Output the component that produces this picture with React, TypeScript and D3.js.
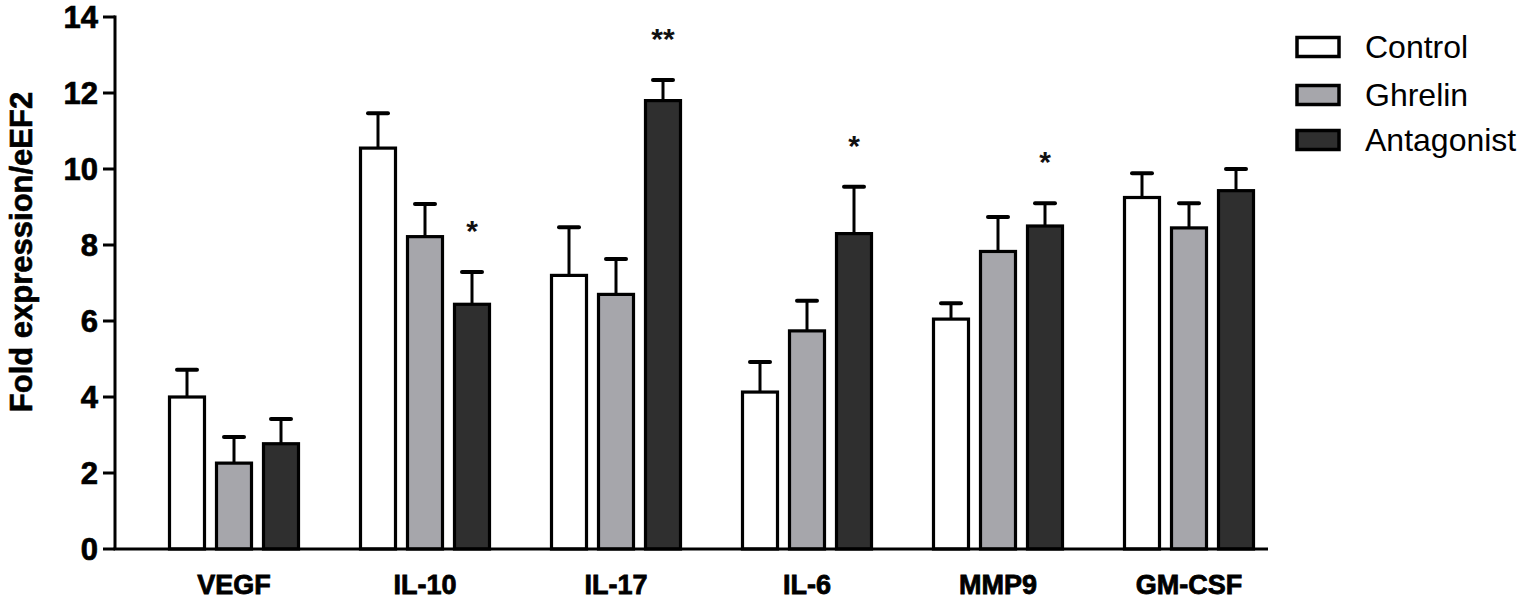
import React from "react";
import * as d3 from "d3";

const categories = ["VEGF", "IL-10", "IL-17", "IL-6", "MMP9", "GM-CSF"];
const seriesNames = ["Control", "Ghrelin", "Antagonist"];
const controlMean = [4.0, 10.55, 7.2, 4.13, 6.05, 9.25];
const controlErr = [0.72, 0.92, 1.27, 0.79, 0.42, 0.64];
const ghrelinMean = [2.26, 8.22, 6.7, 5.74, 7.83, 8.45];
const ghrelinErr = [0.69, 0.86, 0.93, 0.79, 0.91, 0.65];
const antagonistMean = [2.77, 6.44, 11.8, 8.3, 8.5, 9.43];
const antagonistErr = [0.65, 0.85, 0.54, 1.23, 0.6, 0.57];
const antagonistSig = ["", "*", "**", "*", "*", ""];
const yTicks = [0, 2, 4, 6, 8, 10, 12, 14];
const fills = ["#ffffff", "#a6a6ab", "#2f2f2f"];

const means = [controlMean, ghrelinMean, antagonistMean];
const errs = [controlErr, ghrelinErr, antagonistErr];
const sigs = [null, null, antagonistSig];

export default function App() {
  const W = 1535, H = 601;
  const axisX = 115, axisRight = 1268;
  const y = d3.scaleLinear().domain([0, 14]).range([549, 17]);
  const xg = d3.scalePoint<string>().domain(categories).range([234, 1189]);
  const xs = d3.scaleBand<string>().domain(seriesNames).range([-70.5, 70.5]).padding(0);
  const barW = 35;
  const capW = 20;
  const font = "'Liberation Sans', Arial, Helvetica, sans-serif";

  return (
    <svg width={W} height={H} style={{ position: "absolute", left: 0, top: 0, background: "#fff" }} fontFamily={font}>
      {/* bars */}
      {categories.map((c, i) => (
        <g key={c}>
          {seriesNames.map((s, k) => {
            const cx = xg(c)! + xs(s)! + xs.bandwidth() / 2;
            const v = means[k][i];
            const e = errs[k][i];
            const top = y(v);
            const et = y(v + e);
            const sig = sigs[k] ? sigs[k]![i] : "";
            return (
              <g key={s}>
                <line x1={cx} x2={cx} y1={top} y2={et} stroke="#000" strokeWidth={3} />
                <line x1={cx - capW / 2} x2={cx + capW / 2} y1={et} y2={et} stroke="#000" strokeWidth={4} strokeLinecap="round" />
                <rect x={cx - barW / 2} y={top} width={barW} height={y(0) - top} fill={fills[k]} stroke="#000" strokeWidth={3.2} />
                {sig && (
                  <text x={cx} y={et - 48 + 17} textAnchor="middle" fontSize={30} fontWeight="bold" fill="#111">
                    {sig}
                  </text>
                )}
              </g>
            );
          })}
          <text x={xg(c)!} y={594} textAnchor="middle" fontSize={27} fontWeight="bold" fill="#000" stroke="#000" strokeWidth={0.8}>
            {c}
          </text>
        </g>
      ))}
      {/* axes */}
      <line x1={axisX} x2={axisX} y1={y(0)} y2={y(14) - 1.5} stroke="#000" strokeWidth={3} />
      <line x1={axisX - 1.5} x2={axisRight} y1={y(0)} y2={y(0)} stroke="#000" strokeWidth={3} />
      {yTicks.map((t) => (
        <g key={t}>
          <line x1={103} x2={axisX} y1={y(t)} y2={y(t)} stroke="#000" strokeWidth={3} />
          <text x={98} y={y(t) + 11} textAnchor="end" fontSize={31} fontWeight="bold" fill="#000" stroke="#000" strokeWidth={0.7}>
            {t}
          </text>
        </g>
      ))}
      <text
        transform={`translate(32, ${252}) rotate(-90)`}
        textAnchor="middle"
        fontSize={31}
        fontWeight="bold"
        fill="#000"
        stroke="#000"
        strokeWidth={0.6}
      >
        Fold expression/eEF2
      </text>
      {/* legend */}
      {seriesNames.map((s, k) => {
        const cy = [47, 95, 140][k];
        return (
          <g key={s}>
            <rect x={1297} y={cy - 9.5} width={42} height={19} fill={fills[k]} stroke="#000" strokeWidth={3.5} />
            <text x={1365} y={cy + 11} fontSize={32} fill="#000">
              {s}
            </text>
          </g>
        );
      })}
    </svg>
  );
}
